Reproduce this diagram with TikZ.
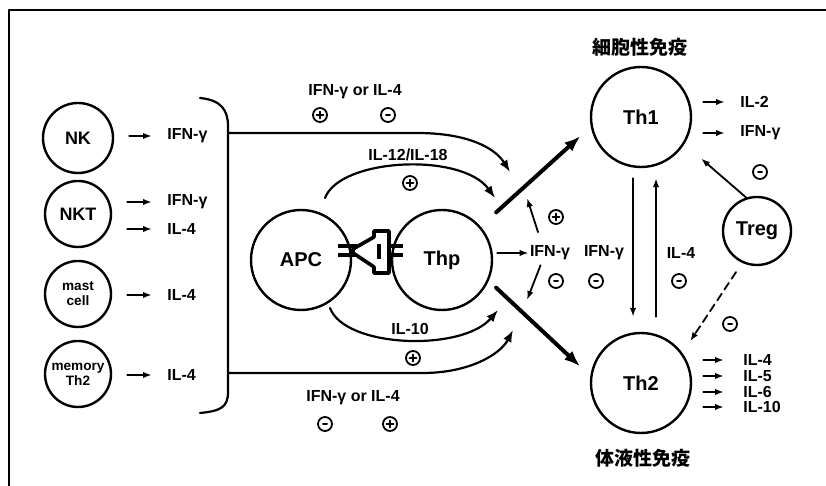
\documentclass[tikz,border=0pt]{standalone}
\usepackage{fontspec}
\setmainfont{Liberation Sans}
\newfontfamily\cjk{Noto Sans CJK JP}
\usetikzlibrary{arrows.meta}

\tikzset{
  cell/.style={circle,draw,line width=1.2pt,inner sep=0pt,minimum size=#1,font=\bfseries\fontsize{10}{11}\selectfont},
  cell/.default=50pt,
  smallcell/.style={cell=#1,font=\bfseries\fontsize{9}{10}\selectfont},
  tinycell/.style={cell=#1,align=center,font=\bfseries\fontsize{6.8}{7.6}\selectfont},
  lbl/.style={font=\bfseries\fontsize{8}{9}\selectfont,inner sep=0.5pt},
  jp/.style={font=\cjk\bfseries\fontsize{9.5}{10}\selectfont,inner sep=0pt},
  signmark/.style={circle,draw,line width=0.9pt,minimum size=7pt,inner sep=0pt},
  plusmark/.style={signmark,path picture={\draw[line width=0.9pt]
      ([xshift=-1.7pt]path picture bounding box.center) -- ([xshift=1.7pt]path picture bounding box.center)
      ([yshift=-1.7pt]path picture bounding box.center) -- ([yshift=1.7pt]path picture bounding box.center);}},
  minusmark/.style={signmark,path picture={\draw[line width=1pt]
      ([xshift=-1pt]path picture bounding box.center) -- ([xshift=1pt]path picture bounding box.center);}},
  arr/.style={-{Latex[length=4.5pt,width=3.2pt]},line width=0.9pt},
  curarr/.style={-{Latex[length=6pt,width=4.5pt]},line width=1.1pt},
  bigarr/.style={-{Latex[length=8pt,width=6pt]},line width=2pt},
  contact/.style={line width=2.2pt,line cap=butt},
}

\begin{document}
\begin{tikzpicture}[x=0.5pt,y=-0.5pt,line cap=round,line join=round]
\useasboundingbox (0,0) rectangle (826,486);
% frame (top and left only)
\draw[line width=1pt] (826,10) -- (9,10) -- (9,486);

% left-hand cells and their cytokines
\node[smallcell=35pt] (nk) at (78,138) {NK};
\node[smallcell=33pt] (nkt) at (78,214) {NKT};
\node[tinycell=33pt] (mast) at (78,294) {mast\\cell};
\node[tinycell=33pt] (mem) at (78,374) {memory\\Th2};

\node[lbl,anchor=west] (nkifn) at (166,136) {IFN-γ};
\node[lbl,anchor=west] (nktifn) at (166,202) {IFN-γ};
\node[lbl,anchor=west] (nktil) at (166,229) {IL-4};
\node[lbl,anchor=west] (mastil) at (166,295) {IL-4};
\node[lbl,anchor=west] (memil) at (166,375) {IL-4};

\foreach \c/\l in {nk/nkifn,nkt/nktifn,nkt/nktil,mast/mastil,mem/memil}
  \draw[arr,shorten <=7.5pt,shorten >=7pt] (\c.east |- \l.west) -- (\l.west);

% bracket
\draw[line width=1.1pt] (200,98) .. controls (221,100) and (228,110) .. (228,126)
  -- (228,392) .. controls (228,407) and (221,411) .. (200,413);
\coordinate (brtop) at (228,133);
\coordinate (brbot) at (228,373);

% APC and Thp
\node[cell] (apc) at (301,260) {APC};
\node[cell] (thp) at (442,260) {Thp};

% contact between APC and Thp
\draw[contact] (338,246) -- (357,246) (338,255) -- (357,255);
\draw[line width=1.8pt] (353,249) -- (374,237) -- (374,231) -- (389,231) -- (389,273)
  -- (374,273) -- (374,267) -- (353,253) -- cycle;
\draw[contact] (379,244) -- (379,259);
\draw[contact] (389,246) -- (403,246) (389,255) -- (403,255);

% signals converging on Thp
\coordinate (tophit) at (510,172);
\coordinate (bothit) at (513,330);
\coordinate (il12s) at (325,198);
\coordinate (il12e) at (495,198);
\coordinate (il10s) at (330,308);
\coordinate (il10e) at (498,310);
\draw[curarr] (brtop) -- (417,133) .. controls (468,133) and (495,148) .. (tophit);
\draw[curarr] (brbot) -- (423,373) .. controls (468,373) and (500,355) .. (bothit);
\draw[curarr] (il12s) .. controls (340,158) and (462,152) .. (il12e);
\draw[curarr] (il10s) .. controls (345,348) and (462,352) .. (il10e);

\node[lbl] (topor) at (355,92) {IFN-γ or IL-4};
\node[plusmark] (tp1) at (320,115) {};
\node[minusmark] (tm1) at (388,115) {};
\node[lbl] (il12) at (408,155) {IL-12/IL-18};
\node[plusmark] (tp2) at (410,183) {};
\node[lbl] (il10) at (410,329) {IL-10};
\node[plusmark] (bp1) at (413,358) {};
\node[lbl] (botor) at (353,398) {IFN-γ or IL-4};
\node[minusmark] (bm1) at (325,424) {};
\node[plusmark] (bp2) at (390,424) {};

% Th1 and Th2
\node[cell] (th1) at (641,117) {Th1};
\node[cell] (th2) at (641,383) {Th2};
\node[cell=34pt] (treg) at (757,231) {Treg};
\node[jp] (celltitle) at (640,47) {細胞性免疫};
\node[jp] (humtitle) at (643,458) {体液性免疫};

\draw[bigarr,shorten <=10.5pt,shorten >=7pt] (thp.41) -- (th1.191);
\draw[bigarr,shorten <=5pt,shorten >=7pt] (thp.-24) -- (th2.172);

% IFN-gamma from Thp
\node[lbl] (ifnmid) at (550,253) {IFN-γ};
\coordinate (upend) at (527,198);
\coordinate (dnend) at (527,300);
\draw[arr,shorten <=2pt] (thp.east |- ifnmid.west) -- (ifnmid.west);
\draw[arr,shorten <=6.5pt] ([xshift=-4pt]ifnmid.north) -- (upend);
\draw[arr,shorten <=2pt] ([xshift=-4pt]ifnmid.south) -- (dnend);
\node[plusmark] (mp1) at (556,217) {};
\node[minusmark] (mm1) at (556,281) {};

\node[lbl] (ifnth) at (604,253) {IFN-γ};
\node[minusmark] (mm2) at (596,281) {};
\node[lbl] (ilth) at (681,253) {IL-4};
\node[minusmark] (mm3) at (679,281) {};
\draw[arr,shorten <=5pt,shorten >=7.5pt] ([xshift=-4pt]th1.south) -- ([xshift=-4pt]th2.north);
\draw[arr,shorten <=7.5pt,shorten >=5pt] ([xshift=7.5pt]th2.north) -- ([xshift=7.5pt]th1.south);

% Treg
\draw[arr,shorten >=11pt] (treg.108) -- (th1.-32);
\node[minusmark] (rm1) at (760,172) {};
\draw[arr,dash pattern=on 4pt off 2.5pt,shorten <=5.5pt,shorten >=7pt] (treg.245) -- (th2.36);
\node[minusmark] (rm2) at (730,324) {};

% Th1 / Th2 products
\node[lbl,anchor=west] (il2) at (739,102) {IL-2};
\node[lbl,anchor=west] (ifn1) at (739,133) {IFN-γ};
\foreach \l in {il2,ifn1}
  \draw[arr,shorten <=5.5pt,shorten >=7pt] (th1.east |- \l.west) -- (\l.west);

\node[lbl,anchor=west] (o4) at (742,360) {IL-4};
\node[lbl,anchor=west] (o5) at (742,376) {IL-5};
\node[lbl,anchor=west] (o6) at (742,392) {IL-6};
\node[lbl,anchor=west] (o10) at (742,407) {IL-10};
\foreach \l in {o4,o5,o6,o10}
  \draw[arr,shorten <=5.5pt,shorten >=9pt] (th2.east |- \l.west) -- (\l.west);
\end{tikzpicture}
\end{document}
